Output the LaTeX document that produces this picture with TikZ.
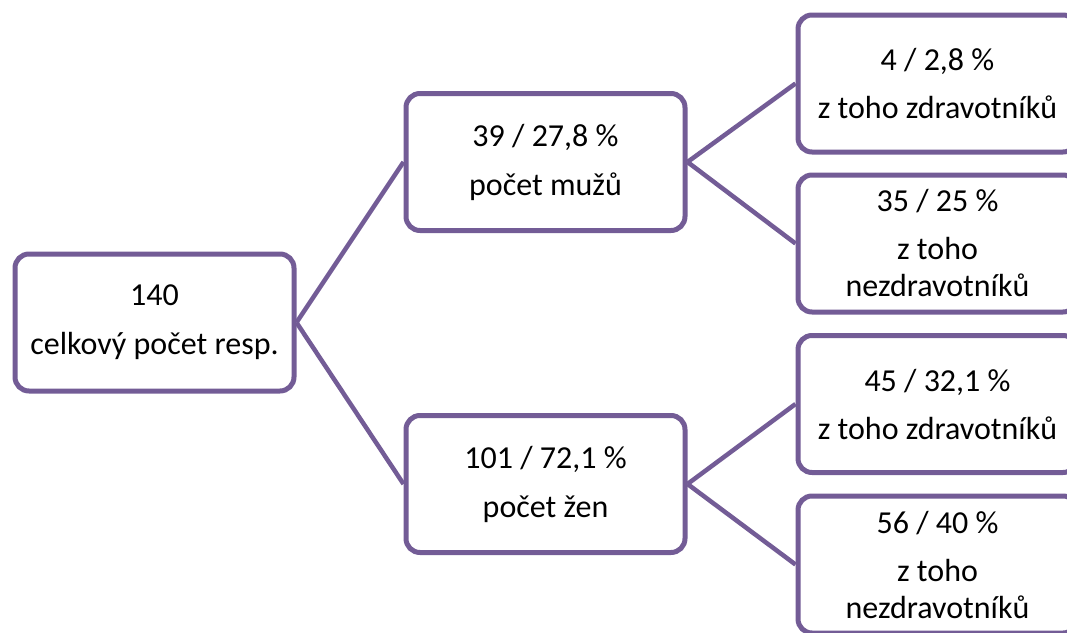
\documentclass[tikz,border=0pt]{standalone}
\usepackage{fontspec}
\setmainfont{Carlito}
\definecolor{boxline}{RGB}{115,92,150}
\begin{document}
\begin{tikzpicture}[x=1pt,y=-1pt,
  box/.style={draw=boxline, line width=5pt, rounded corners=14pt, fill=white,
    minimum width=279pt, minimum height=137pt, inner sep=0pt, align=center,
    font=\fontsize{32}{37}\selectfont, text=black},
  link/.style={draw=boxline, line width=4.5pt}]
\useasboundingbox (0,0) rectangle (1067,632);
\clip (0,0) rectangle (1067,632);
\node[box] (root) at (154.5,322.5) {140\\[12pt]celkový počet resp.};
\node[box] (men) at (545.5,162) {39 / 27,8 \%\\[12pt]počet mužů};
\node[box] (women) at (545.5,484) {101 / 72,1 \%\\[12pt]počet žen};
\node[box] (mh) at (937.5,83.5) {4 / 2,8 \%\\[11pt]z toho zdravotníků};
\node[box] (mn) at (937.5,243.5) {35 / 25 \%\\[11pt]z toho\\nezdravotníků};
\node[box] (wh) at (937.5,404) {45 / 32,1 \%\\[11pt]z toho zdravotníků};
\node[box] (wn) at (937.5,564.5) {56 / 40 \%\\[11pt]z toho\\nezdravotníků};
\draw[link] (root.east) -- (men.west);
\draw[link] (root.east) -- (women.west);
\draw[link] (men.east) -- (mh.west);
\draw[link] (men.east) -- (mn.west);
\draw[link] (women.east) -- (wh.west);
\draw[link] (women.east) -- (wn.west);
\end{tikzpicture}
\end{document}
